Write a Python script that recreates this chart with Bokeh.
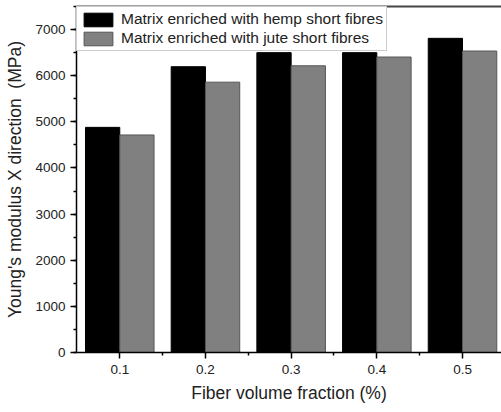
from bokeh.plotting import figure
from bokeh.models import ColumnDataSource, Range1d, FixedTicker, SingleIntervalTicker, Legend, LegendItem, LinearAxis
from bokeh.transform import dodge
from bokeh.embed import file_html
from bokeh.resources import INLINE

fractions = [0.1, 0.2, 0.3, 0.4, 0.5]
hemp = [4880, 6195, 6500, 6500, 6810]
jute = [4715, 5860, 6215, 6405, 6535]
series_names = ["Matrix enriched with hemp short fibres", "Matrix enriched with jute short fibres"]

FONT = "Liberation Sans"

src = ColumnDataSource(dict(x=fractions, hemp=hemp, jute=jute))

p = figure(width=501, height=412, output_backend="svg", toolbar_location=None,
           x_range=Range1d(0.0495, 0.5455), y_range=Range1d(0, 7500),
           min_border_left=76, min_border_right=0, min_border_top=6, min_border_bottom=60)
p.outline_line_color = None
p.grid.visible = False
p.background_fill_color = "white"
p.border_fill_color = "white"

r1 = p.vbar(x=dodge("x", -0.02, range=p.x_range), top="hemp", width=0.04, source=src,
            fill_color="black", line_color="black", line_width=1)
r2 = p.vbar(x=dodge("x", 0.02, range=p.x_range), top="jute", width=0.04, source=src,
            fill_color="#808080", line_color="#555555", line_width=1)

xa = p.below[0]
ya = p.left[0]

top_axis = LinearAxis(ticker=FixedTicker(ticks=[], minor_ticks=[]),
                      axis_line_color="#444444", axis_line_width=2,
                      major_tick_line_color=None, minor_tick_line_color=None,
                      major_tick_in=0, major_tick_out=0, minor_tick_in=0, minor_tick_out=0,
                      major_label_standoff=0)
p.add_layout(top_axis, "above")

xa.ticker = FixedTicker(ticks=fractions, minor_ticks=[0.15, 0.25, 0.35, 0.45])
xa.axis_label = "Fiber volume fraction (%)"
ya.ticker = SingleIntervalTicker(interval=1000, num_minor_ticks=2)
ya.axis_label = "Young's modulus X direction\u00a0 (MPa)"

for ax in (xa, ya):
    ax.axis_line_color = "black"
    ax.axis_line_width = 1.5
    ax.major_tick_line_color = "black"
    ax.major_tick_line_width = 1.5
    ax.minor_tick_line_color = "black"
    ax.minor_tick_line_width = 1.5
    ax.major_tick_in = 0
    ax.major_tick_out = 6
    ax.minor_tick_in = 0
    ax.minor_tick_out = 3
    ax.major_label_text_font = FONT
    ax.major_label_text_font_size = "13.5px"
    ax.major_label_text_color = "#222222"
    ax.axis_label_text_font = FONT
    ax.axis_label_text_font_size = "17.5px"
    ax.axis_label_text_font_style = "normal"
    ax.axis_label_text_color = "#222222"
xa.major_label_standoff = 6
xa.axis_label_standoff = 6
ya.major_label_standoff = 5
ya.axis_label_standoff = 7

legend = Legend(items=[LegendItem(label=series_names[0], renderers=[r1]),
                       LegendItem(label=series_names[1], renderers=[r2])],
                location="top_left", margin=0, padding=3, spacing=1,
                glyph_width=36, glyph_height=17, label_standoff=5,
                label_text_font=FONT, label_text_font_size="15.5px", label_text_color="#222222",
                border_line_color="#999999", border_line_width=1,
                background_fill_color="white", background_fill_alpha=1)
p.add_layout(legend)

open("out.html", "w").write(file_html(p, INLINE))
